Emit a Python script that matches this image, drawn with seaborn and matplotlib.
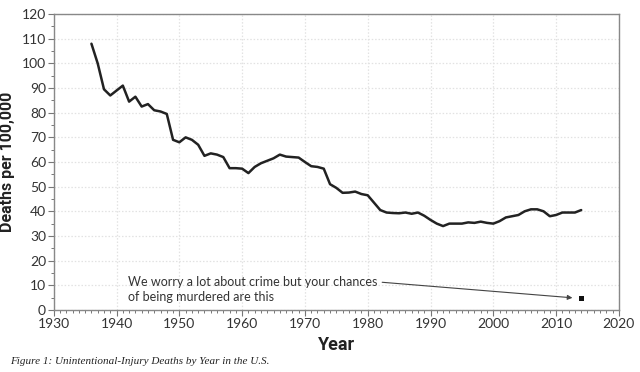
import numpy as np
import pandas as pd
import seaborn as sns
import matplotlib.pyplot as plt
from matplotlib.ticker import MultipleLocator

years = list(range(1936, 2015))
deaths = [
    108.0, 100.0, 89.5, 87.0, 89.0, 91.0, 84.5, 86.5, 82.5, 83.5,
    81.0, 80.5, 79.5, 69.0, 68.0, 70.0, 69.0, 67.0, 62.5, 63.5,
    63.0, 62.0, 57.5, 57.5, 57.3, 55.5, 58.0, 59.5, 60.5, 61.5,
    63.0, 62.2, 62.0, 61.8, 60.0, 58.3, 58.0, 57.3, 51.0, 49.5,
    47.5, 47.6, 48.0, 47.0, 46.5, 43.5, 40.5, 39.5, 39.3, 39.2,
    39.5, 39.0, 39.5, 38.2, 36.5, 35.0, 34.0, 35.0, 35.0, 35.0,
    35.5, 35.3, 35.8, 35.3, 35.0, 36.0, 37.5, 38.0, 38.5, 40.0,
    40.8, 40.8, 40.0, 38.0, 38.5, 39.5, 39.5, 39.5, 40.5,
]
murder_year = [2014]
murder_rate = [4.5]

note = "We worry a lot about crime but your chances\nof being murdered are this"
caption = "Figure 1: Unintentional-Injury Deaths by Year in the U.S."

df = pd.DataFrame({"Year": years, "Deaths": deaths})
df_murder = pd.DataFrame({"Year": murder_year, "Deaths": murder_rate})

sns.set_theme(style="white")
plt.rcParams["font.family"] = ["Lato", "DejaVu Sans"]

fig = plt.figure(figsize=(6.4, 3.72), dpi=100)
ax = fig.add_axes([0.084, 0.167, 0.883, 0.795])

sns.lineplot(data=df, x="Year", y="Deaths", ax=ax, color="#222222", linewidth=1.8)
sns.scatterplot(data=df_murder, x="Year", y="Deaths", ax=ax, color="#111111",
                marker="s", s=14, edgecolor="none", zorder=5)

ax.set_xlim(1930, 2020)
ax.set_ylim(0, 120)
ax.xaxis.set_major_locator(MultipleLocator(10))
ax.xaxis.set_minor_locator(MultipleLocator(1))
ax.yaxis.set_major_locator(MultipleLocator(10))
ax.yaxis.set_minor_locator(MultipleLocator(5))
ax.grid(True, which="major", color="#e2e2e2", linestyle=(0, (1.2, 1.5)), linewidth=0.9)
ax.tick_params(which="major", direction="out", length=4, width=0.8, color="#777777",
               labelsize=10, labelcolor="#333333", pad=1.5, bottom=True, left=True)
ax.tick_params(which="minor", direction="out", length=2.5, width=0.7, color="#777777",
               bottom=True, left=True)
for s in ax.spines.values():
    s.set_color("#888888")
    s.set_linewidth(1.0)

ax.set_xlabel("Year", family=["Roboto", "DejaVu Sans"],
              fontweight="bold", fontsize=13, color="#222222", labelpad=5)
ax.set_ylabel("Deaths per 100,000", family=["Roboto", "DejaVu Sans"],
              fontweight="bold", fontsize=11.5, color="#222222", labelpad=5)

ax.text(1941.8, 8.3, note, fontsize=9, color="#333333", va="center", ha="left",
        linespacing=1.3)
ax.annotate("", xy=(2012.6, 4.9), xytext=(1982.3, 11.2),
            arrowprops=dict(arrowstyle="-|>", color="#444444", lw=0.8,
                            mutation_scale=7, shrinkA=0, shrinkB=0))

fig.text(0.016, 0.022, caption, family=["Liberation Serif", "DejaVu Serif"],
         style="italic", fontsize=8, color="#222222")

plt.savefig("out.png", dpi=100)
plt.close()
